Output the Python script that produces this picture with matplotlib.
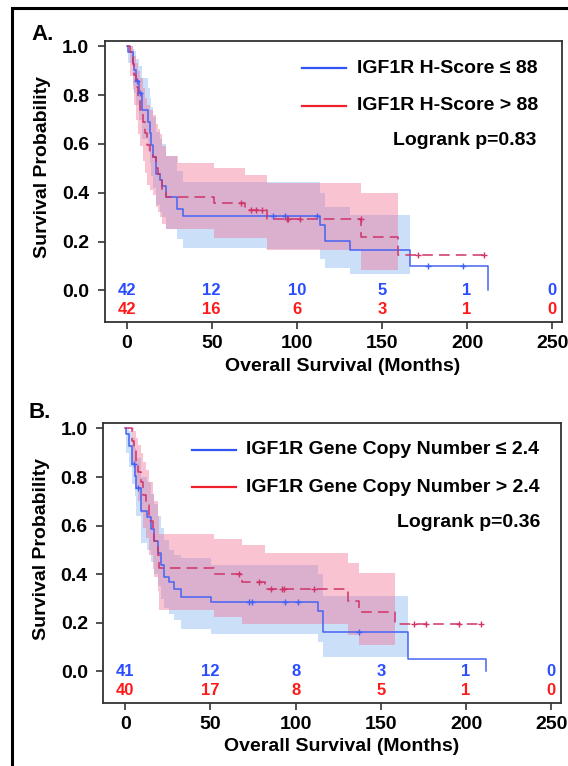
import numpy as np
import matplotlib
matplotlib.use("Agg")
import matplotlib.pyplot as plt
from matplotlib.patches import Rectangle

plt.rcParams['font.family'] = ['Liberation Sans', 'DejaVu Sans']
plt.rcParams['font.weight'] = 'bold'

# ─── DATA: panel A (IGF1R H-Score) ─────────────────────────
a_blue_t  = [0, 1, 3.5, 4.5, 5.5, 7, 9, 12.5, 13.5, 14.5, 15.5, 17, 19.5, 20.7, 23, 29.6, 33, 113.5, 116.5, 131, 166.5, 212.5]
a_blue_s  = [1.0, 0.976, 0.929, 0.905, 0.857, 0.81, 0.738, 0.69, 0.643, 0.595, 0.548, 0.476, 0.452, 0.429, 0.381, 0.333, 0.305, 0.268, 0.204, 0.167, 0.10, 0.0]
a_blue_ci_t = [0, 1, 3.5, 4.5, 5.5, 7, 9, 12.5, 13.5, 14.5, 15.5, 17, 19.5, 20.7, 23, 29.6, 33, 82, 113.5, 116.5, 131, 166.5]
a_blue_hi = [1.0, 1.0, 0.99, 0.98, 0.95, 0.92, 0.87, 0.83, 0.79, 0.75, 0.71, 0.65, 0.62, 0.60, 0.55, 0.49, 0.445, 0.445, 0.40, 0.343, 0.31, 0.31]
a_blue_lo = [1.0, 0.93, 0.84, 0.81, 0.76, 0.70, 0.62, 0.57, 0.52, 0.47, 0.42, 0.35, 0.32, 0.30, 0.25, 0.21, 0.173, 0.17, 0.13, 0.09, 0.065, 0.065]
a_blue_cens = [6, 8, 86, 93, 112, 177, 197.5]

a_red_t  = [0, 2, 3.5, 4.5, 5.5, 6.5, 8, 9.5, 10.5, 12, 13.5, 15.5, 17, 18.5, 19.5, 21, 23, 51.5, 69.4, 82.3, 138, 159.6, 210]
a_red_s  = [1.0, 0.976, 0.929, 0.881, 0.833, 0.786, 0.738, 0.69, 0.643, 0.595, 0.571, 0.548, 0.50, 0.476, 0.452, 0.405, 0.384, 0.359, 0.33, 0.293, 0.218, 0.146, 0.146]
a_red_ci_t = [0, 2, 3.5, 4.5, 5.5, 6.5, 8, 9.5, 10.5, 12, 13.5, 15.5, 17, 18.5, 19.5, 21, 23, 30, 51.5, 69.4, 82.3, 138, 159.6]
a_red_hi = [1.0, 1.0, 0.99, 0.96, 0.93, 0.90, 0.87, 0.83, 0.79, 0.76, 0.74, 0.72, 0.68, 0.66, 0.64, 0.59, 0.55, 0.52, 0.50, 0.472, 0.44, 0.40, 0.40]
a_red_lo = [1.0, 0.88, 0.82, 0.76, 0.70, 0.64, 0.59, 0.53, 0.48, 0.43, 0.41, 0.39, 0.34, 0.32, 0.30, 0.27, 0.25, 0.25, 0.215, 0.215, 0.165, 0.085, 0.085]
a_red_cens = [67.4, 73.3, 76.3, 79.6, 94, 95, 102, 137.5, 171, 210]

a_risk_blue = [42, 12, 10, 5, 1, 0]
a_risk_red  = [42, 16, 6, 3, 1, 0]
a_labels = ["IGF1R H-Score \u2264 88", "IGF1R H-Score > 88"]
a_pval = "Logrank p=0.83"

# ─── DATA: panel B (IGF1R gene copy number) ────────────────
b_blue_t  = [0, 0.5, 2.3, 4, 5.8, 6.5, 9.2, 13, 15, 17, 19, 21, 22.9, 25.8, 28.7, 32.6, 50.2, 113.3, 115.8, 166, 211.8]
b_blue_s  = [1.0, 0.976, 0.927, 0.854, 0.805, 0.756, 0.659, 0.634, 0.585, 0.537, 0.488, 0.439, 0.39, 0.366, 0.341, 0.307, 0.286, 0.25, 0.162, 0.052, 0.0]
b_blue_ci_t = [0, 0.5, 2.3, 4, 5.8, 6.5, 9.2, 13, 15, 17, 19, 21, 22.9, 25.8, 28.7, 32.6, 50.2, 113.3, 115.8, 166]
b_blue_hi = [1.0, 1.0, 0.99, 0.96, 0.92, 0.88, 0.80, 0.78, 0.73, 0.69, 0.64, 0.59, 0.54, 0.50, 0.48, 0.466, 0.438, 0.40, 0.31, 0.31]
b_blue_lo = [1.0, 0.90, 0.84, 0.77, 0.72, 0.64, 0.53, 0.50, 0.45, 0.40, 0.35, 0.30, 0.26, 0.235, 0.21, 0.176, 0.155, 0.12, 0.06, 0.06]
b_blue_cens = [5.3, 7.2, 72.7, 74.6, 93.8, 101.6, 137.2]

b_red_t  = [0, 3.9, 5.3, 6.2, 7.2, 9.2, 10.6, 12.2, 14.1, 16.1, 17, 19, 19.9, 52.2, 68.8, 82, 130.7, 137.2, 158.5, 210]
b_red_s  = [1.0, 0.95, 0.906, 0.863, 0.82, 0.78, 0.727, 0.686, 0.62, 0.565, 0.537, 0.48, 0.424, 0.40, 0.369, 0.338, 0.29, 0.245, 0.194, 0.194]
b_red_ci_t = [0, 3.9, 5.3, 6.2, 7.2, 9.2, 10.6, 12.2, 14.1, 16.1, 17, 19, 19.9, 52.2, 68.8, 82, 130.7, 137.2, 158.5]
b_red_hi = [1.0, 1.0, 0.99, 0.96, 0.93, 0.90, 0.86, 0.83, 0.78, 0.73, 0.70, 0.64, 0.565, 0.545, 0.52, 0.486, 0.447, 0.406, 0.406]
b_red_lo = [1.0, 0.85, 0.80, 0.75, 0.70, 0.65, 0.59, 0.55, 0.48, 0.42, 0.39, 0.33, 0.252, 0.224, 0.197, 0.197, 0.149, 0.107, 0.107]
b_red_cens = [66.8, 78.5, 85.4, 92, 93, 110.8, 169.4, 176.3, 195.8, 208.5]

b_risk_blue = [41, 12, 8, 3, 1, 0]
b_risk_red  = [40, 17, 8, 5, 1, 0]
b_labels = ["IGF1R Gene Copy Number \u2264 2.4", "IGF1R Gene Copy Number > 2.4"]
b_pval = "Logrank p=0.36"

risk_times = [0, 50, 100, 150, 200, 250]

# ─── STYLE ────────────────────────────────────────────────
BLUE_LINE  = "#4563f2"
RED_LINE   = "#cf3468"
BLUE_FILL  = "#5898ee"
RED_FILL   = "#f2698f"
BLUE_LEG   = "#2f55f5"
RED_LEG    = "#f0202a"
BLUE_TXT   = "#2a4cff"
RED_TXT    = "#ff1a1a"
SPINE      = "#333333"
FS         = 14


def step_at(t_arr, s_arr, x):
    idx = np.searchsorted(np.asarray(t_arr), np.asarray(x), side="right") - 1
    return np.asarray(s_arr)[idx]


def draw_panel(ax, blue, red, risk_b, risk_r, labels, pval, leg_x):
    bt, bs, bci_t, blo, bhi, bcens = blue
    rt, rs, rci_t, rlo, rhi, rcens = red

    ax.fill_between(bci_t, blo, bhi, step="post", color=BLUE_FILL, alpha=0.3, lw=0, zorder=1)
    ax.fill_between(rci_t, rlo, rhi, step="post", color=RED_FILL, alpha=0.4, lw=0, zorder=2)

    ax.step(bt, bs, where="post", color=BLUE_LINE, lw=1.1, zorder=3)
    ax.step(rt, rs, where="post", color=RED_LINE, lw=1.1, dashes=(7, 4), zorder=3)
    ax.plot(bcens, step_at(bt, bs, bcens), "+", color=BLUE_LINE, ms=5, mew=1, zorder=4)
    ax.plot(rcens, step_at(rt, rs, rcens), "+", color=RED_LINE, ms=5, mew=1, zorder=4)

    # numbers at risk
    for x, nb, nr in zip(risk_times, risk_b, risk_r):
        ax.text(x, 0.0, str(nb), color=BLUE_TXT, fontsize=12, fontweight="bold", ha="center", va="center")
        ax.text(x, -0.08, str(nr), color=RED_TXT, fontsize=12, fontweight="bold", ha="center", va="center")

    # legend (drawn by hand, solid lines like the original)
    x0, x1, xt, xp = leg_x
    for y, col, lab in [(0.904, BLUE_LEG, labels[0]), (0.770, RED_LEG, labels[1])]:
        ax.plot([x0, x1], [y, y], color=col, lw=1.6, transform=ax.transAxes)
        ax.text(xt, y, lab, transform=ax.transAxes, fontsize=FS, fontweight="bold", va="center", ha="left")
    ax.text(xp, 0.645, pval, transform=ax.transAxes,
            fontsize=FS, fontweight="bold", va="center", ha="right")

    ax.set_xlim(-13, 256)
    ax.set_ylim(-0.13, 1.022)
    ax.set_xticks(range(0, 251, 50))
    ax.set_yticks([0.0, 0.2, 0.4, 0.6, 0.8, 1.0])
    ax.set_yticklabels(["0.0", "0.2", "0.4", "0.6", "0.8", "1.0"])
    ax.tick_params(labelsize=FS, length=5, width=1.2, color=SPINE, pad=4)
    ax.tick_params(axis="y", pad=6)
    for lab in ax.get_xticklabels() + ax.get_yticklabels():
        lab.set_fontweight("bold")
    for sp in ax.spines.values():
        sp.set_linewidth(1.3)
        sp.set_color(SPINE)

    ax.text(0.521, -0.157, "Overall Survival (Months)", transform=ax.transAxes,
            fontsize=FS, fontweight="bold", ha="center", va="center")
    ax.text(-0.135, 0.55, "Survival Probability", transform=ax.transAxes, rotation=90,
            fontsize=FS, fontweight="bold", ha="center", va="center")


fig = plt.figure(figsize=(5.68, 7.66), dpi=100)
axA = fig.add_axes([0.184, 0.5796, 0.806, 0.3668])
axB = fig.add_axes([0.1815, 0.0822, 0.807, 0.3655])

draw_panel(axA,
           (a_blue_t, a_blue_s, a_blue_ci_t, a_blue_lo, a_blue_hi, a_blue_cens),
           (a_red_t, a_red_s, a_red_ci_t, a_red_lo, a_red_hi, a_red_cens),
           a_risk_blue, a_risk_red, a_labels, a_pval, (0.431, 0.527, 0.551, 0.944))
draw_panel(axB,
           (b_blue_t, b_blue_s, b_blue_ci_t, b_blue_lo, b_blue_hi, b_blue_cens),
           (b_red_t, b_red_s, b_red_ci_t, b_red_lo, b_red_hi, b_red_cens),
           b_risk_blue, b_risk_red, b_labels, b_pval, (0.195, 0.289, 0.311, 0.954))

fig.text(31 / 568, 1 - 34 / 766, "A.", fontsize=16, fontweight="bold", ha="left", va="center")
fig.text(29 / 568, 1 - 412 / 766, "B.", fontsize=16, fontweight="bold", ha="left", va="center")

# outer frame, cut off on the right and bottom like the source
fig.patches.append(Rectangle((12 / 568, -0.1), 1.2, 1.1 - 8 / 766, transform=fig.transFigure,
                             fill=False, edgecolor="black", lw=2.2, zorder=0))

fig.savefig("out.png", dpi=100)
